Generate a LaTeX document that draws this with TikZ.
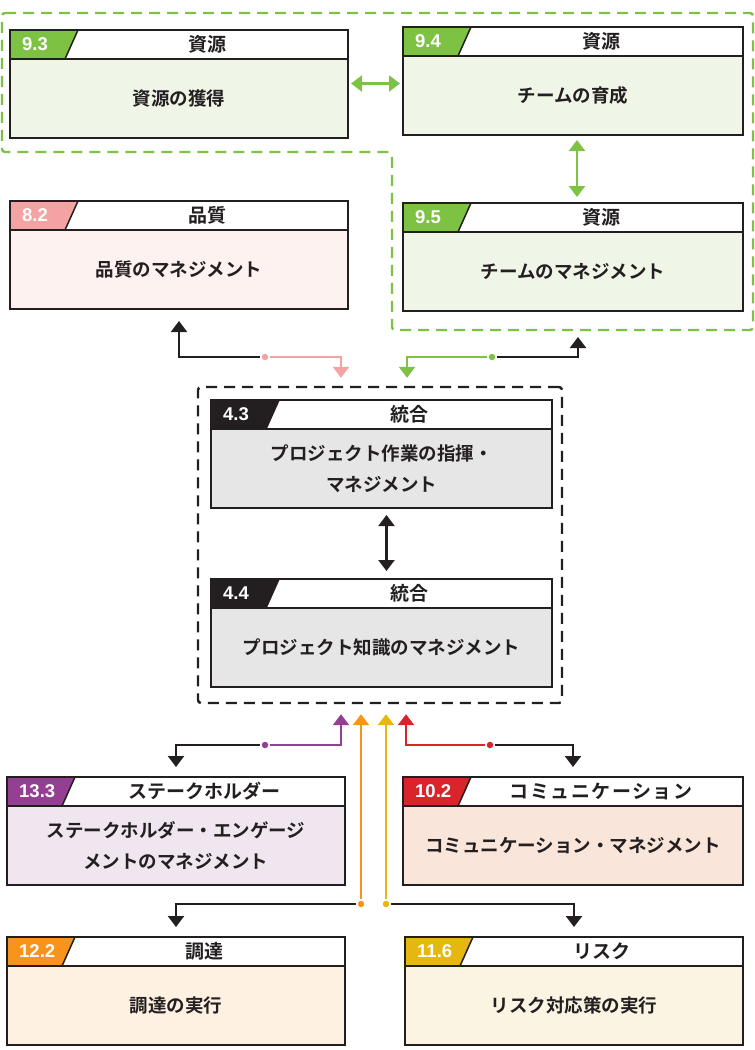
\documentclass[tikz,border=0pt]{standalone}
\usepackage{fontspec}
\newfontfamily\jpfont{Noto Sans CJK JP Bold}
\newfontfamily\numfont{Liberation Sans}
\usetikzlibrary{arrows.meta,positioning,calc}

\definecolor{ink}{HTML}{231F20}
\definecolor{restag}{HTML}{7DC243}
\definecolor{resfill}{HTML}{F0F6E7}
\definecolor{qualtag}{HTML}{F4A3A2}
\definecolor{qualfill}{HTML}{FEF2F1}
\definecolor{inttag}{HTML}{231F20}
\definecolor{intfill}{HTML}{E6E6E6}
\definecolor{stktag}{HTML}{943F91}
\definecolor{stkfill}{HTML}{EFE6F0}
\definecolor{comtag}{HTML}{D9242B}
\definecolor{comfill}{HTML}{F9E5DA}
\definecolor{prctag}{HTML}{F7941E}
\definecolor{prcfill}{HTML}{FEF1E1}
\definecolor{risktag}{HTML}{E6B70E}
\definecolor{riskfill}{HTML}{FBF4E3}

\tikzset{head/.style={draw=ink,line width=2.4pt,fill=white,minimum height=29pt,inner sep=0pt,outer sep=0pt},
  bodybox/.style={draw=ink,line width=2.4pt,fill=#1,minimum height=79pt,inner sep=0pt,outer sep=0pt,text=ink,align=center,font=\jpfont\fontsize{18.5}{31}\selectfont},
  titletext/.style={text=ink,inner sep=0pt,font=\jpfont\fontsize{19}{20}\selectfont},
  numtext/.style={text=white,inner sep=0pt,font=\numfont\bfseries\fontsize{18.5}{20}\selectfont},
  conn/.style={line width=2.4pt,->},
  dbl/.style={line width=2.4pt,<->},
  dot/.style={circle,fill=#1,inner sep=0pt,minimum size=6.5pt,outer sep=2pt},
  frame/.style={line width=2.4pt,dash pattern=on 11pt off 7pt,rounded corners=3pt}}

\newcommand{\procbox}[7]{%
  \node[head,minimum width=#3,anchor=north west] (#1h) at (#2) {};
  \fill[#4tag] (#1h.north west) -- ++(68pt,0pt) -- ++(-13pt,-29pt) -- (#1h.south west) -- cycle;
  \draw[ink,line width=1.5pt] ([xshift=68pt]#1h.north west) -- ++(-13pt,-29pt);
  \draw[ink,line width=2.4pt] (#1h.north west) rectangle (#1h.south east);
  \node[numtext,anchor=west] (#1n) at ([xshift=12pt]#1h.west) {#5};
  \node[titletext] (#1t) at ([xshift=28pt]#1h.center) {#6};
  \node[bodybox=#4fill,minimum width=#3,anchor=north] (#1) at (#1h.south) {#7};
}

\begin{document}
\begin{tikzpicture}[>={Triangle[width=16pt,length=11pt]},x=1pt,y=-1pt]
  \useasboundingbox (0,0) rectangle (755,1050);

  \draw[frame,restag] (2,13) -- (753,13) -- (753,330) -- (392,330) -- (392,152) -- (2,152) -- cycle;
  \node[frame,draw=ink,minimum width=364pt,minimum height=316pt,inner sep=0pt] (integ) at (380,545) {};

  \procbox{b93}{10,30}{338pt}{res}{9.3}{資源}{資源の獲得}
  \procbox{b94}{403,27}{340pt}{res}{9.4}{資源}{チームの育成}
  \procbox{b95}{403,203}{340pt}{res}{9.5}{資源}{チームのマネジメント}
  \procbox{b82}{10,201}{338pt}{qual}{8.2}{品質}{品質のマネジメント}
  \procbox{b43}{211,400}{341pt}{int}{4.3}{統合}{プロジェクト作業の指揮・\\マネジメント}
  \procbox{b44}{211,579}{341pt}{int}{4.4}{統合}{プロジェクト知識のマネジメント}
  \procbox{b133}{7,777}{338pt}{stk}{13.3}{ステークホルダー}{ステークホルダー・エンゲージ\\メントのマネジメント}
  \procbox{b102}{403,777}{340pt}{com}{10.2}{\addfontfeature{LetterSpace=8}コミュニケーション}{コミュニケーション・マネジメント}
  \procbox{b122}{7,937}{338pt}{prc}{12.2}{調達}{調達の実行}
  \procbox{b116}{405,937}{338pt}{risk}{11.6}{リスク}{リスク対応策の実行}

  \draw[dbl,restag,shorten <=3pt,shorten >=3pt] ([yshift=15pt]b93.east) -- ([yshift=15pt]b93.east -| b94.west);
  \draw[dbl,restag,shorten <=5pt,shorten >=6pt] ([xshift=4pt]b94.south) -- ([xshift=4pt]b95h.north);
  \draw[dbl,ink,shorten <=7pt,shorten >=8pt] ([xshift=5pt]b43.south) -- ([xshift=5pt]b44h.north);

  \node[dot=qualtag] (q82) at (265,357) {};
  \node[dot=restag] (q95) at (492,357) {};
  \coordinate (resout) at (578,330);
  \draw[conn,ink,shorten >=12pt] (q82) -| (b82);
  \draw[conn,qualtag,shorten >=8pt] (q82) -| ([xshift=-39pt]integ.north);
  \draw[conn,restag,shorten >=8pt] (q95) -| ([xshift=27pt]integ.north);
  \draw[conn,ink,shorten >=7pt] (q95) -| (resout);

  \node[dot=stktag] (p133) at (265,745) {};
  \node[dot=comtag] (p102) at (490,745) {};
  \node[dot=prctag] (p122) at (361,904) {};
  \node[dot=risktag] (p116) at (386,904) {};
  \draw[conn,stktag,shorten >=10pt] (p133) -| ([xshift=-39pt]integ.south);
  \draw[conn,ink,shorten >=10pt] (p133) -| (b133h);
  \draw[conn,comtag,shorten >=10pt] (p102) -| ([xshift=26pt]integ.south);
  \draw[conn,ink,shorten >=10pt] (p102) -| (b102h);
  \draw[conn,prctag,shorten >=10pt] (p122) -- (p122 |- integ.south);
  \draw[conn,ink,shorten >=10pt] (p122) -| (b122h);
  \draw[conn,risktag,shorten >=10pt] (p116) -- (p116 |- integ.south);
  \draw[conn,ink,shorten >=10pt] (p116) -| (b116h);
\end{tikzpicture}
\end{document}
